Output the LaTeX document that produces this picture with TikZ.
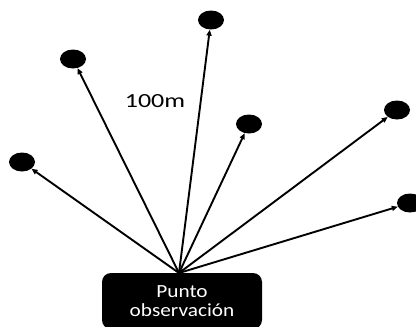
\documentclass[tikz,border=0pt]{standalone}
\usepackage{fontspec}
\setmainfont{Carlito}
\usetikzlibrary{shapes.geometric,arrows.meta}
\begin{document}
\begin{tikzpicture}[x=1pt,y=-1pt,
  target/.style={ellipse,fill=black,minimum width=26pt,minimum height=19pt,inner sep=0pt},
  ray/.style={line width=1.9pt,-{Triangle[length=6pt,width=5pt]}},
  obsbox/.style={fill=black,rounded corners=9pt,minimum width=160pt,minimum height=56pt,
    text=white,align=center,font=\fontsize{18.5}{20}\selectfont,inner sep=0pt}]
\useasboundingbox (0,0) rectangle (416,327);
\node[target] (d1) at (22,162) {};
\node[target] (d2) at (73,59) {};
\node[target] (d3) at (211,20) {};
\node[target] (d4) at (249,124) {};
\node[target] (d5) at (397,110) {};
\node[target] (d6) at (410,203) {};
\node[obsbox] (obs) at (182,301) {\scalebox{1.15}[1]{Punto}\\[-1pt]\scalebox{1.15}[1]{observación}};
\coordinate (hub) at (179,273);
\foreach \d in {d1,d2,d3,d4,d5,d6} \draw[ray] (hub) -- (\d);
\node (lbl) at (155,101) {\fontsize{20}{22}\selectfont\scalebox{1.3}[1]{100m}};
\end{tikzpicture}
\end{document}
